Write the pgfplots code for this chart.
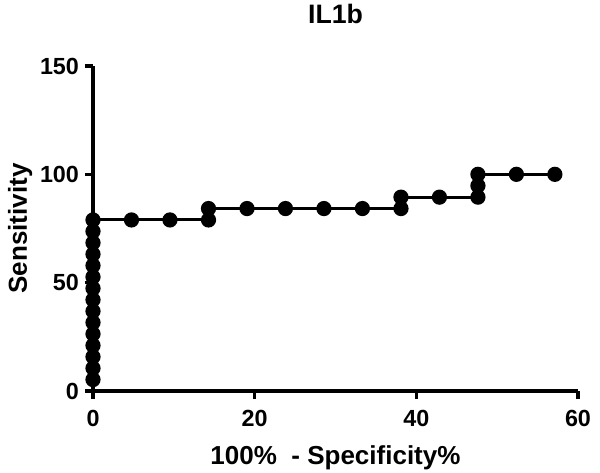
\documentclass[border=0pt]{standalone}
\usepackage{pgfplots}
\pgfplotsset{compat=1.18}
\usepackage{fontspec}
\setmainfont{Liberation Sans}
\begin{document}
\begin{tikzpicture}
\begin{axis}[
  scale only axis,
  width=363.75pt, height=243.75pt,
  xmin=0, xmax=60, ymin=0, ymax=150,
  axis lines=left,
  axis line style={line width=2.4pt, -},
  xtick={0,20,40,60}, ytick={0,50,100,150},
  xticklabels={\textbf{0},\textbf{20},\textbf{40},\textbf{60}},
  yticklabels={\textbf{0},\textbf{50},\textbf{100},\textbf{150}},
  tick style={line width=2.4pt, black},
  tick align=outside,
  major tick length=6pt,
  tick label style={font=\bfseries\fontsize{17.5}{17.5}\selectfont},
  xticklabel style={yshift=-5pt},
  yticklabel style={xshift=-1pt},
  title={\bfseries IL1b},
  title style={font=\bfseries\fontsize{20}{20}\selectfont, yshift=22pt},
  xlabel={100\%\ \ - Specificity\%},
  ylabel={Sensitivity},
  label style={font=\bfseries\fontsize{19.5}{19.5}\selectfont},
  xlabel style={yshift=-7pt},
  ylabel style={yshift=-1pt},
  clip=false,
]
\addplot[black, line width=2.2pt, mark=*, mark size=4.6pt, mark options={solid, fill=black}] coordinates {
(0,5.26) (0,10.53) (0,15.79) (0,21.05) (0,26.32) (0,31.58) (0,36.84) (0,42.11)
(0,47.37) (0,52.63) (0,57.89) (0,63.16) (0,68.42) (0,73.68) (0,78.95)
(4.76,78.95) (9.52,78.95) (14.29,78.95) (14.29,84.21)
(19.05,84.21) (23.81,84.21) (28.57,84.21) (33.33,84.21) (38.10,84.21) (38.10,89.47)
(42.86,89.47) (47.62,89.47) (47.62,94.74) (47.62,100)
(52.38,100) (57.14,100)
};
\end{axis}
\pgfresetboundingbox
\path[use as bounding box] (-69.75pt,-60.75pt) rectangle (380.25pt,293.25pt);
\end{tikzpicture}
\end{document}
